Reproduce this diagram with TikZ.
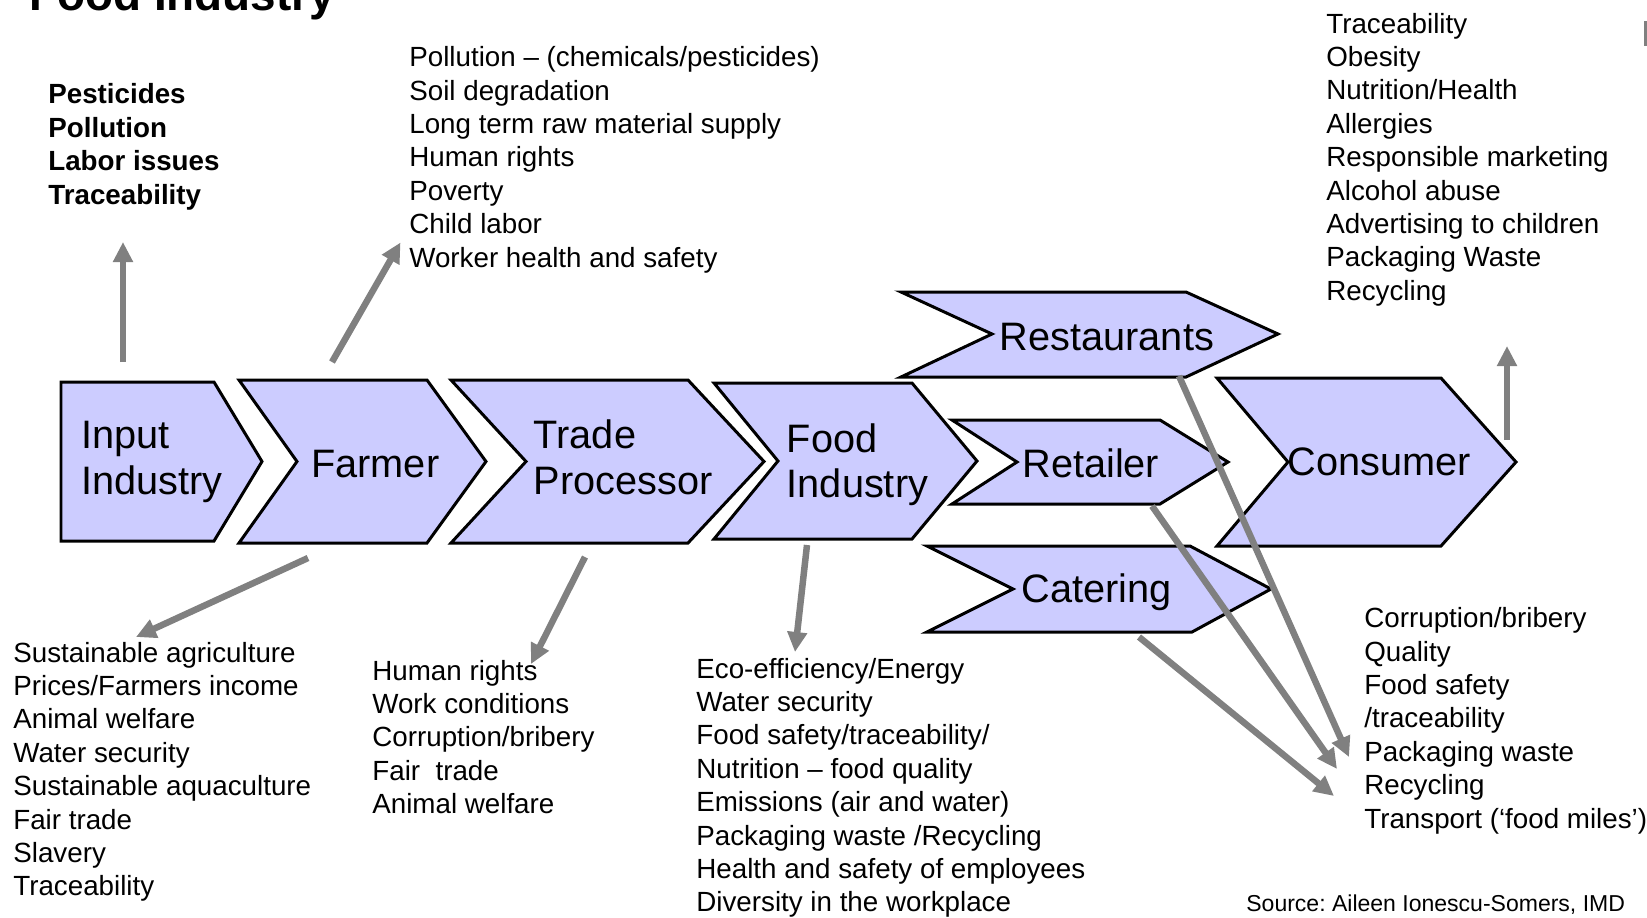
\documentclass[tikz,border=0pt]{standalone}
\usepackage{fontspec}
\setmainfont{Liberation Sans}
\usetikzlibrary{arrows.meta}
\definecolor{chevfill}{RGB}{204,204,255}
\definecolor{flowgray}{RGB}{128,128,128}
\frenchspacing

\begin{document}
\begin{tikzpicture}
      [x=0.02cm,y=-0.02cm,
      %%%%%%%%%%%%%%%%%%%%%%%%%%%%%%
      chev/.style={draw=black,line width=1.7pt,fill=chevfill,line join=miter},
      stage/.style={anchor=base west,inner sep=0pt,align=left,font=\fontsize{22.6}{25.9}\selectfont},
      issues/.style={anchor=base west,inner sep=0pt,align=left,font=\fontsize{15.8}{19}\selectfont},
      flow/.style={draw=flowgray,line width=3.7pt,-{Triangle[length=0.4cm,width=0.38cm]}},
      ]%%%%%%%%%%%%%%%%%%%%%%%%%%%%%%
      \useasboundingbox (0,0) rectangle (1647,917);

      \node[anchor=base west,inner sep=0pt,font=\bfseries\fontsize{26.1}{30}\selectfont] (title) at (29,10) {Food Industry};
      \fill[flowgray] (1644,21) rectangle (1652,46);

      % supply chain
      \draw[chev] (61,382) -- (214,382) -- (262,461.5) -- (214,541) -- (61,541) -- cycle;
      \draw[chev] (239,380) -- (427,380) -- (486,461.5) -- (427,543) -- (239,543) -- (297,461.5) -- cycle;
      \draw[chev] (451,380) -- (688,380) -- (764,461.5) -- (688,543) -- (451,543) -- (526,461.5) -- cycle;
      \draw[chev] (714,383) -- (912,383) -- (977,461) -- (912,539) -- (714,539) -- (778,461) -- cycle;
      \draw[chev] (901,292) -- (1186,292) -- (1278,334) -- (1186,377) -- (901,377) -- (992,334) -- cycle;
      \draw[chev] (952,420) -- (1160,420) -- (1228,462) -- (1160,504) -- (952,504) -- (1017,462) -- cycle;
      \draw[chev] (927,546) -- (1190,546) -- (1271,589) -- (1192,632) -- (927,632) -- (1013,589) -- cycle;
      \draw[chev] (1217,378) -- (1441,378) -- (1516,462) -- (1441,546) -- (1217,546) -- (1288,462) -- cycle;

      % base west = baseline of the last line
      \node[stage] (input) at (81,494) {Input\\Industry};
      \node[stage] (farmer) at (311,477) {Farmer};
      \node[stage] (trade) at (533.5,494) {Trade\\Processor};
      \node[stage] (food) at (786.5,497.5) {Food\\Industry};
      \node[stage] (restaurants) at (999.5,350) {Restaurants};
      \node[stage] (retailer) at (1022,477) {Retailer};
      \node[stage] (catering) at (1021,602) {Catering};
      \node[stage] (consumer) at (1287,475) {Consumer};

      % issues
      \node[issues,font=\bfseries\fontsize{15.8}{19.1}\selectfont] (inputtop) at (48,204.2) {Pesticides\\Pollution\\Labor issues\\Traceability};
      \node[issues] (farmertop) at (409,267.1) {Pollution – (chemicals/pesticides)\\Soil degradation\\Long term raw material supply\\Human rights\\Poverty\\Child labor\\Worker health and safety};
      \node[issues] (consumertop) at (1326,300.2) {Traceability\\Obesity\\Nutrition/Health\\Allergies\\Responsible marketing\\Alcohol abuse\\Advertising to children\\Packaging Waste\\Recycling};
      \node[issues] (farmerlow) at (13,895.8) {Sustainable agriculture\\Prices/Farmers income\\Animal welfare\\Water security\\Sustainable aquaculture\\Fair trade\\Slavery\\Traceability};
      \node[issues] (tradelow) at (372,813.6) {Human rights\\Work conditions\\Corruption/bribery\\Fair\ \ trade\\Animal welfare};
      \node[issues] (foodlow) at (696,911.8) {Eco-efficiency/Energy\\Water security\\Food safety/traceability/\\Nutrition – food quality\\Emissions (air and water)\\Packaging waste /Recycling\\Health and safety of employees\\Diversity in the workplace};
      \node[issues] (outletlow) at (1364,828) {Corruption/bribery\\Quality\\Food safety\\/traceability\\Packaging waste\\Recycling\\Transport (‘food miles’)};
      \node[issues,font=\fontsize{13.1}{16}\selectfont] (source) at (1246,911) {Source: Aileen Ionescu-Somers, IMD};

      \coordinate (input-from) at (123,362);
      \coordinate (input-to) at (123,242);
      \coordinate (farmerup-from) at (332,362);
      \coordinate (farmerup-to) at (400.5,242.5);
      \coordinate (farmerdown-from) at (308,558);
      \coordinate (farmerdown-to) at (136,637);
      \coordinate (trade-from) at (585,557);
      \coordinate (trade-to) at (531,664);
      \coordinate (food-from) at (807,545);
      \coordinate (food-to) at (795,652);
      \coordinate (restaurants-from) at (1179,376);
      \coordinate (restaurants-to) at (1349,757);
      \coordinate (retailer-from) at (1152,506);
      \coordinate (retailer-to) at (1337,769);
      \coordinate (catering-from) at (1139,637);
      \coordinate (catering-to) at (1334,796);
      \coordinate (consumer-from) at (1507,440);
      \coordinate (consumer-to) at (1507,346);

      \foreach \a in {input,farmerup,farmerdown,trade,food,restaurants,retailer,catering,consumer}
        \draw[flow] (\a-from) -- (\a-to);
    \end{tikzpicture}
\end{document}
